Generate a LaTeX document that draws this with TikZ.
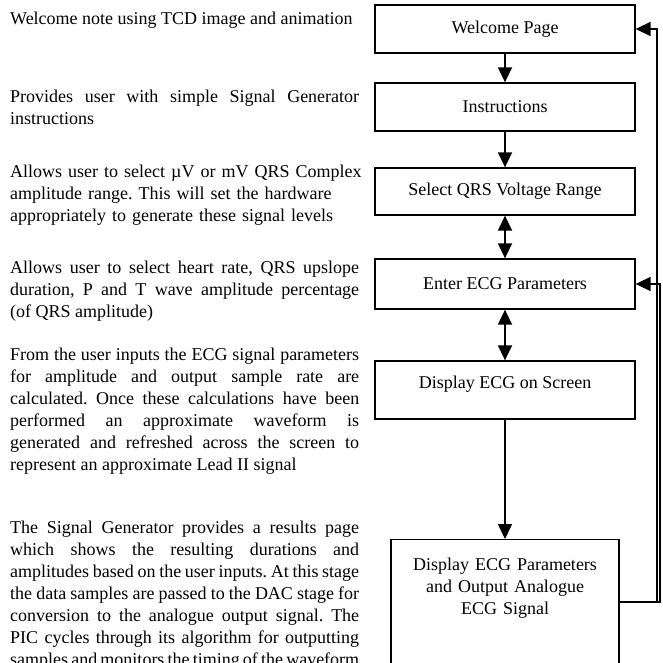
\documentclass[tikz,border=0pt]{standalone}
\usepackage{fontspec}
\setmainfont{Liberation Serif}
\usetikzlibrary{arrows.meta}

\newcommand{\notefont}{\fontsize{18}{22}\selectfont\frenchspacing}

\tikzset{
  stage/.style={draw, line width=1.3pt, minimum width=260pt, minimum height=48pt,
    inner sep=0pt, font=\notefont},
  note/.style={anchor=base west, inner sep=0pt, text width=349pt, align=justify,
    font=\notefont},
  flow/.style={line width=1.5pt},
}

\begin{document}
\begin{tikzpicture}[x=1pt, y=-1pt, >={Triangle[length=15pt, width=14pt]}]

\useasboundingbox (0,0) rectangle (663,663);
\clip (0,0) rectangle (663,663);

% Descriptions (left column)
\node[note] (nwelcome) at (10,24.5) {Welcome note using TCD image and animation};
\node[note] (ninstr) at (10,103)
  {Provides user with simple Signal Generator\linebreak instructions};
\node[note, text width=380pt, align=left] (nrange) at (10,177)
  {Allows user to select µV or mV QRS Complex\\
   amplitude range. This will set the hardware\\
   appropriately to generate these signal levels};
\node[note] (nparams) at (10,273)
  {Allows user to select heart rate, QRS upslope\linebreak
   duration, P and T wave amplitude percentage\linebreak
   (of QRS amplitude)};
\node[note] (nscreen) at (10,360)
  {From the user inputs the ECG signal parameters\linebreak
   for amplitude and output sample rate are\linebreak
   calculated. Once these calculations have been\linebreak
   performed an approximate waveform is\linebreak
   generated and refreshed across the screen to\linebreak
   represent an approximate Lead II signal};
\node[note] (noutput) at (10,533)
  {The Signal Generator provides a results page\linebreak
   which shows the resulting durations and\linebreak
   amplitudes based on the user inputs. At this stage\linebreak
   the data samples are passed to the DAC stage for\linebreak
   conversion to the analogue output signal. The\linebreak
   PIC cycles through its algorithm for outputting\linebreak
   samples and monitors the timing of the waveform\linebreak};

% Stages (right column)
\node[stage] (welcome) at (505,29) {Welcome Page};
\node[stage] (instr) at (505,107) {Instructions};
\node[stage, minimum height=47pt] (range) at (505,191.5) {Select QRS Voltage Range};
\node[stage, minimum height=50pt] (params) at (505,284) {Enter ECG Parameters};
\node[stage, minimum height=58pt, text depth=15pt] (screen) at (505,390)
  {Display ECG on Screen};
\node[stage, anchor=north, minimum width=228pt, text width=200pt, align=center,
      inner xsep=14pt, inner ysep=18pt, text depth=140pt] (output) at (505,539)
  {Display ECG Parameters\\and Output Analogue\\ECG Signal};

% Flow between stages
\draw[flow, ->] (welcome) -- (instr);
\draw[flow, ->] (instr) -- (range);
\draw[flow, <->] (range) -- (params);
\draw[flow, <->] (params) -- (screen);
\draw[flow, ->] (screen) -- (output);

% Return paths
\coordinate (backtop) at (657,602);
\coordinate (backmid) at (660,602);
\draw[flow, ->] (output.east |- backtop) -- (backtop) |- (welcome.east);
\draw[flow, ->] (output.east |- backmid) -- (backmid) |- (params.east);

\end{tikzpicture}
\end{document}
